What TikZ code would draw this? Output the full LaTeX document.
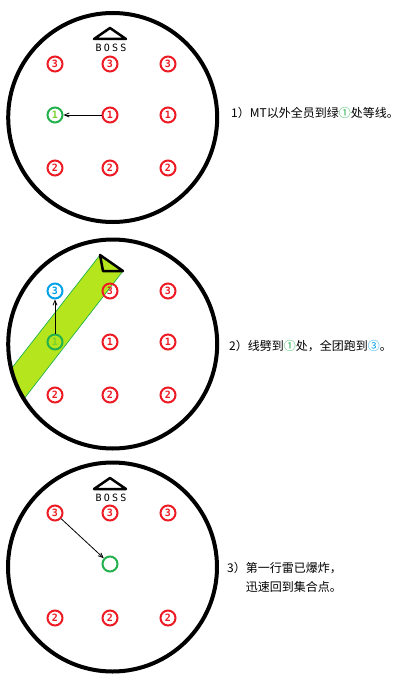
\documentclass[tikz,border=0pt]{standalone}
\usepackage{fontspec}
\newfontfamily\cjk{Noto Sans CJK SC}
\newfontfamily\pixfont[LetterSpace=22]{DejaVu Sans Mono}
\newfontfamily\digitfont{DejaVu Sans Mono}
\usepackage{tikz}
\usetikzlibrary{arrows,calc}
\definecolor{paintred}{RGB}{237,28,36}
\definecolor{paintgreen}{RGB}{34,177,76}
\definecolor{paintblue}{RGB}{0,162,232}
\definecolor{bandgreen}{RGB}{181,230,29}
\tikzstyle{arena}=[line width=4pt]
\tikzstyle{spot}=[circle, line width=2pt, minimum size=15pt, inner sep=0pt, font=\digitfont\bfseries\fontsize{10}{10}\selectfont]
\tikzstyle{redspot}=[spot, draw=paintred, text=paintred]
\tikzstyle{greenspot}=[spot, draw=paintgreen, text=paintgreen!60!yellow]
\tikzstyle{bluespot}=[spot, draw=paintblue, text=paintblue]
\tikzstyle{movearrow}=[-angle 45, line width=0.8pt]
\tikzstyle{band}=[fill=bandgreen, draw=paintgreen, line width=0.7pt]
\tikzstyle{stepnote}=[anchor=west, inner sep=0pt, align=left, font=\cjk\fontsize{12}{19}\selectfont]
\tikzstyle{bosstext}=[inner sep=0pt, font=\pixfont\fontsize{10}{10}\selectfont]
\newcommand{\bossMark}[2]{
	\draw[line width=2.5pt, line join=round] ($#1+(-16,0)$) -- ($#1+(0,-11)$) -- ($#1+(16,0)$) -- cycle;
	\node[bosstext] (#2) at ($#1+(1,9)$) {BOSS};
}

\begin{document}
\begin{tikzpicture}[x=1pt,y=-1pt]
	\useasboundingbox (0,0) rectangle (414,693);
	% step 1
	\draw[arena] (112.7,117.5) circle (104.5pt);
	\bossMark{(110,39)}{bossA}
	\node[redspot] (a31) at (55,64) {3};
	\node[redspot] (a32) at (110,64) {3};
	\node[redspot] (a33) at (168,64) {3};
	\node[greenspot] (a11) at (55,115) {1};
	\node[redspot] (a12) at (110,115) {1};
	\node[redspot] (a13) at (168,115) {1};
	\node[redspot] (a21) at (55,168) {2};
	\node[redspot] (a22) at (110,168) {2};
	\node[redspot] (a23) at (168,168) {2};
	\draw[movearrow] (a12) -- (a11);
	\node[stepnote] (noteA) at (231,113) {1）MT以外全员到绿{\color{paintgreen}①}处等线。};
	% step 2
	\begin{scope}
		\clip (112.7,344) circle (104.5pt);
		\draw[band] (100,255) -- (123,271) -- (-4,435) -- (-31,423) -- cycle;
	\end{scope}
	\draw[line width=2.5pt, line join=round] (100,255) -- (123,271) -- (103,271) -- cycle;
	\draw[arena] (112.7,344) circle (104.5pt);
	\node[bluespot] (b31) at (55,291) {3};
	\node[redspot] (b32) at (110,291) {3};
	\node[redspot] (b33) at (168,291) {3};
	\node[greenspot] (b11) at (55,342) {1};
	\node[redspot] (b12) at (110,342) {1};
	\node[redspot] (b13) at (168,342) {1};
	\node[redspot] (b21) at (55,395) {2};
	\node[redspot] (b22) at (110,395) {2};
	\node[redspot] (b23) at (168,395) {2};
	\draw[movearrow] (b11) -- (b31);
	\node[stepnote] (noteB) at (229,346) {2）线劈到{\color{paintgreen}①}处，全团跑到{\color{paintblue}③}。};
	% step 3
	\draw[arena] (112.5,567) circle (104.5pt);
	\bossMark{(110,489)}{bossC}
	\node[redspot] (c31) at (55,513) {3};
	\node[redspot] (c32) at (110,513) {3};
	\node[redspot] (c33) at (168,513) {3};
	\node[greenspot] (c0) at (110,564) {};
	\node[redspot] (c21) at (55,618) {2};
	\node[redspot] (c22) at (110,618) {2};
	\node[redspot] (c23) at (168,618) {2};
	\draw[movearrow] (c31) -- (c0);
	\node[stepnote] (noteC) at (227,577.5) {3）第一行雷已爆炸，\\\phantom{3）}迅速回到集合点。};
\end{tikzpicture}
\end{document}
